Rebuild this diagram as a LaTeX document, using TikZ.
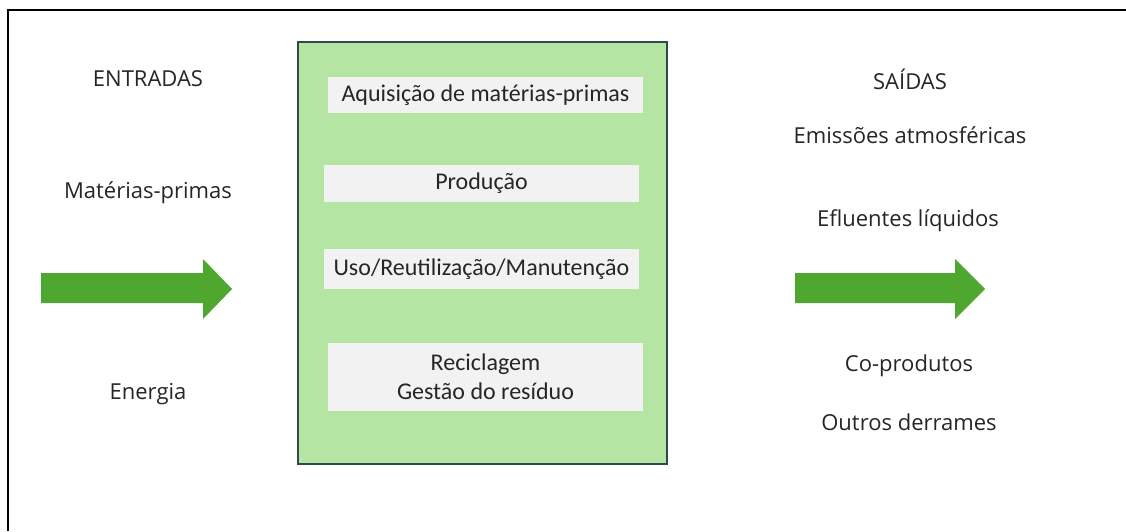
\documentclass[tikz,border=0pt]{standalone}
\usepackage{fontspec}
\setmainfont{Open Sans}
\newfontfamily\boxfont{Carlito}
\usetikzlibrary{positioning}
\definecolor{panelgreen}{HTML}{B4E5A2}
\definecolor{paneledge}{HTML}{2E4A4A}
\definecolor{stepfill}{HTML}{F2F2F2}
\definecolor{arrowgreen}{HTML}{4EA72E}
\definecolor{txt}{HTML}{262626}
\tikzset{
  lbl/.style={font=\fontsize{22}{26}\selectfont, text=txt, inner sep=0pt},
  stepbox/.style={fill=stepfill, inner sep=0pt, font=\boxfont\fontsize{24}{29}\selectfont, text=txt, align=center},
  fatarrow/.style={fill=arrowgreen, draw=none},
}
\begin{document}
\begin{tikzpicture}[x=1pt,y=-1pt]
\useasboundingbox (0,0) rectangle (1126,531);
\fill[white] (0,0) rectangle (1126,531);
% outer frame (top and left)
\draw[black, line width=2pt] (8,531) -- (8,10) -- (1126,10);
% central panel
\node[draw=paneledge, line width=1.5pt, fill=panelgreen, minimum width=369pt, minimum height=422pt, inner sep=0pt] (panel) at (482.5,253) {};
% steps
\node[stepbox, minimum width=315pt, minimum height=36pt] (s1) at (485.5,95) {Aquisição de matérias-primas};
\node[stepbox, minimum width=315pt, minimum height=37pt] (s2) at (481.5,183.5) {Produção};
\node[stepbox, minimum width=315pt, minimum height=40pt] (s3) at (481.5,269) {Uso/Reutilização/Manutenção};
\node[stepbox, minimum width=315pt, minimum height=68pt] (s4) at (485.5,377) {Reciclagem\\Gestão do resíduo};
% left labels
\node[lbl] (ent) at (148,79) {ENTRADAS};
\node[lbl] (mp) at (148,193) {Matérias-primas};
\node[lbl] (en) at (148,394) {Energia};
% right labels
\node[lbl] (sai) at (910,79) {SAÍDAS};
\node[lbl] (em) at (910,135) {Emissões atmosféricas};
\node[lbl] (ef) at (908,221) {Efluentes líquidos};
\node[lbl] (co) at (909,366) {Co-produtos};
\node[lbl] (ou) at (909,422) {Outros derrames};
% block arrows
\fill[fatarrow] (41,273) -- (203,273) -- (203,259) -- (232,289) -- (203,319) -- (203,303) -- (41,303) -- cycle;
\fill[fatarrow] (795,273) -- (955,273) -- (955,259) -- (985,289) -- (955,319) -- (955,303) -- (795,303) -- cycle;
\end{tikzpicture}
\end{document}
